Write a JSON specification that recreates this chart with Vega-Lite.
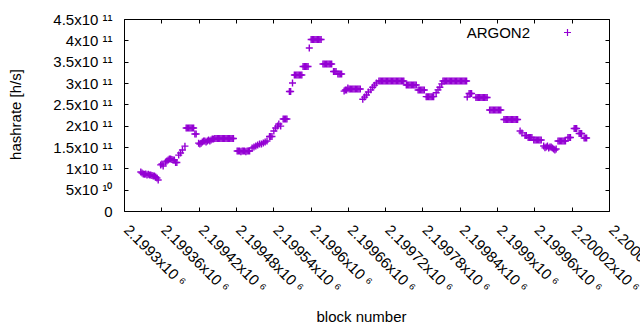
{
"$schema": "https://vega.github.io/schema/vega-lite/v6.json",
"width": 485, "height": 192,
"autosize": "none",
"padding": {"left": 124, "top": 19, "right": 31, "bottom": 119},
"config": {
  "view": {"stroke": "black", "strokeWidth": 1},
  "font": "Liberation Sans",
  "axis": {"labelFont": "Liberation Sans", "labelFontSize": 15, "labelColor": "black", "titleFont": "Liberation Sans", "titleFontSize": 15, "titleFontWeight": "normal", "titleColor": "black", "tickColor": "black", "tickSize": -4, "tickWidth": 1, "domain": false, "grid": false, "labelFlush": false, "labelOverlap": false, "labelBound": false},
  "legend": {"labelFont": "Liberation Sans", "labelFontSize": 15, "labelColor": "black"}
},
"data": {"values": [
{"block":2199327,"hashrate":9.14e10},{"block":2199329,"hashrate":8.9e10},{"block":2199331,"hashrate":8.67e10},{"block":2199333,"hashrate":8.6e10},{"block":2199335,"hashrate":8.67e10},{"block":2199337,"hashrate":8.44e10},{"block":2199339,"hashrate":8.6e10},{"block":2199341,"hashrate":8.44e10},{"block":2199343,"hashrate":8.44e10},{"block":2199345,"hashrate":8.3e10},{"block":2199347,"hashrate":8.2e10},{"block":2199349,"hashrate":8.2e10},{"block":2199351,"hashrate":7.97e10},{"block":2199353,"hashrate":7.73e10},{"block":2199355,"hashrate":7.27e10},
{"block":2199359,"hashrate":1.08e11},{"block":2199361,"hashrate":1.1e11},{"block":2199363,"hashrate":1.055e11},
{"block":2199367,"hashrate":1.148e11},{"block":2199369,"hashrate":1.172e11},{"block":2199371,"hashrate":1.195e11},{"block":2199373,"hashrate":1.219e11},{"block":2199375,"hashrate":1.219e11},{"block":2199377,"hashrate":1.207e11},{"block":2199379,"hashrate":1.195e11},{"block":2199381,"hashrate":1.195e11},{"block":2199383,"hashrate":1.137e11},{"block":2199385,"hashrate":1.137e11},
{"block":2199388,"hashrate":1.31e11},{"block":2199391,"hashrate":1.36e11},{"block":2199394,"hashrate":1.43e11},{"block":2199398,"hashrate":1.52e11},
{"block":2199400,"hashrate":1.945e11},{"block":2199402,"hashrate":1.945e11},{"block":2199404,"hashrate":1.945e11},{"block":2199406,"hashrate":1.945e11},{"block":2199408,"hashrate":1.945e11},{"block":2199410,"hashrate":1.945e11},{"block":2199412,"hashrate":1.945e11},
{"block":2199414,"hashrate":1.805e11},{"block":2199416,"hashrate":1.805e11},
{"block":2199420,"hashrate":1.59e11},{"block":2199422,"hashrate":1.57e11},{"block":2199424,"hashrate":1.59e11},{"block":2199426,"hashrate":1.617e11},{"block":2199428,"hashrate":1.64e11},{"block":2199430,"hashrate":1.64e11},{"block":2199432,"hashrate":1.617e11},{"block":2199434,"hashrate":1.64e11},{"block":2199436,"hashrate":1.664e11},{"block":2199438,"hashrate":1.64e11},{"block":2199440,"hashrate":1.664e11},{"block":2199442,"hashrate":1.687e11},{"block":2199444,"hashrate":1.687e11},
{"block":2199446,"hashrate":1.7e11},{"block":2199448,"hashrate":1.7e11},{"block":2199450,"hashrate":1.7e11},{"block":2199452,"hashrate":1.7e11},{"block":2199454,"hashrate":1.7e11},{"block":2199456,"hashrate":1.7e11},{"block":2199458,"hashrate":1.7e11},{"block":2199460,"hashrate":1.7e11},{"block":2199462,"hashrate":1.7e11},{"block":2199464,"hashrate":1.7e11},{"block":2199466,"hashrate":1.7e11},{"block":2199468,"hashrate":1.7e11},{"block":2199470,"hashrate":1.7e11},{"block":2199472,"hashrate":1.7e11},{"block":2199474,"hashrate":1.7e11},{"block":2199476,"hashrate":1.7e11},
{"block":2199482,"hashrate":1.406e11},{"block":2199484,"hashrate":1.406e11},{"block":2199486,"hashrate":1.406e11},{"block":2199488,"hashrate":1.39e11},{"block":2199490,"hashrate":1.406e11},{"block":2199492,"hashrate":1.406e11},{"block":2199494,"hashrate":1.406e11},{"block":2199496,"hashrate":1.39e11},{"block":2199498,"hashrate":1.406e11},{"block":2199500,"hashrate":1.406e11},{"block":2199502,"hashrate":1.406e11},
{"block":2199506,"hashrate":1.476e11},{"block":2199509,"hashrate":1.5e11},{"block":2199512,"hashrate":1.523e11},{"block":2199515,"hashrate":1.547e11},{"block":2199518,"hashrate":1.57e11},{"block":2199521,"hashrate":1.57e11},{"block":2199524,"hashrate":1.594e11},{"block":2199527,"hashrate":1.617e11},{"block":2199530,"hashrate":1.64e11},
{"block":2199534,"hashrate":1.746e11},{"block":2199536,"hashrate":1.746e11},{"block":2199538,"hashrate":1.746e11},
{"block":2199541,"hashrate":1.875e11},{"block":2199544,"hashrate":1.945e11},{"block":2199547,"hashrate":1.99e11},{"block":2199549,"hashrate":2.04e11},{"block":2199552,"hashrate":1.99e11},{"block":2199556,"hashrate":2.156e11},{"block":2199558,"hashrate":2.156e11},{"block":2199560,"hashrate":2.156e11},{"block":2199562,"hashrate":2.156e11},
{"block":2199566,"hashrate":2.8e11},{"block":2199568,"hashrate":2.8e11},{"block":2199571,"hashrate":3.0e11},
{"block":2199574,"hashrate":3.187e11},{"block":2199576,"hashrate":3.187e11},{"block":2199578,"hashrate":3.187e11},{"block":2199580,"hashrate":3.187e11},{"block":2199582,"hashrate":3.187e11},{"block":2199584,"hashrate":3.187e11},{"block":2199586,"hashrate":3.187e11},
{"block":2199588,"hashrate":3.387e11},{"block":2199590,"hashrate":3.387e11},{"block":2199592,"hashrate":3.387e11},{"block":2199594,"hashrate":3.387e11},{"block":2199596,"hashrate":3.387e11},
{"block":2199598,"hashrate":3.82e11},
{"block":2199601,"hashrate":4.019e11},{"block":2199603,"hashrate":4.019e11},{"block":2199605,"hashrate":4.019e11},{"block":2199607,"hashrate":4.019e11},{"block":2199609,"hashrate":4.019e11},{"block":2199611,"hashrate":4.019e11},{"block":2199613,"hashrate":4.019e11},{"block":2199615,"hashrate":4.019e11},{"block":2199617,"hashrate":4.019e11},
{"block":2199620,"hashrate":3.445e11},{"block":2199622,"hashrate":3.445e11},{"block":2199624,"hashrate":3.445e11},{"block":2199626,"hashrate":3.445e11},{"block":2199628,"hashrate":3.445e11},{"block":2199630,"hashrate":3.445e11},{"block":2199632,"hashrate":3.445e11},{"block":2199634,"hashrate":3.445e11},
{"block":2199637,"hashrate":3.269e11},{"block":2199639,"hashrate":3.269e11},{"block":2199641,"hashrate":3.269e11},
{"block":2199644,"hashrate":3.211e11},{"block":2199646,"hashrate":3.211e11},{"block":2199648,"hashrate":3.211e11},{"block":2199650,"hashrate":3.211e11},
{"block":2199654,"hashrate":2.81e11},{"block":2199656,"hashrate":2.836e11},{"block":2199658,"hashrate":2.836e11},{"block":2199660,"hashrate":2.88e11},{"block":2199662,"hashrate":2.86e11},{"block":2199664,"hashrate":2.86e11},{"block":2199666,"hashrate":2.86e11},{"block":2199668,"hashrate":2.86e11},{"block":2199670,"hashrate":2.86e11},{"block":2199672,"hashrate":2.86e11},{"block":2199674,"hashrate":2.86e11},{"block":2199676,"hashrate":2.86e11},{"block":2199678,"hashrate":2.86e11},{"block":2199680,"hashrate":2.86e11},
{"block":2199684,"hashrate":2.62e11},{"block":2199687,"hashrate":2.67e11},{"block":2199690,"hashrate":2.72e11},{"block":2199693,"hashrate":2.79e11},
{"block":2199697,"hashrate":2.84e11},{"block":2199700,"hashrate":2.9e11},{"block":2199703,"hashrate":2.95e11},{"block":2199706,"hashrate":3.0e11},
{"block":2199710,"hashrate":3.047e11},{"block":2199712,"hashrate":3.047e11},{"block":2199714,"hashrate":3.047e11},{"block":2199716,"hashrate":3.047e11},{"block":2199718,"hashrate":3.047e11},{"block":2199720,"hashrate":3.047e11},{"block":2199722,"hashrate":3.047e11},{"block":2199724,"hashrate":3.047e11},{"block":2199726,"hashrate":3.047e11},{"block":2199728,"hashrate":3.047e11},{"block":2199730,"hashrate":3.047e11},{"block":2199732,"hashrate":3.047e11},{"block":2199734,"hashrate":3.047e11},{"block":2199736,"hashrate":3.047e11},{"block":2199738,"hashrate":3.047e11},{"block":2199740,"hashrate":3.047e11},{"block":2199742,"hashrate":3.047e11},{"block":2199744,"hashrate":3.047e11},{"block":2199746,"hashrate":3.047e11},{"block":2199748,"hashrate":3.047e11},{"block":2199750,"hashrate":3.047e11},
{"block":2199754,"hashrate":2.953e11},{"block":2199756,"hashrate":2.953e11},{"block":2199758,"hashrate":2.953e11},{"block":2199760,"hashrate":2.953e11},{"block":2199762,"hashrate":2.953e11},{"block":2199764,"hashrate":2.953e11},{"block":2199766,"hashrate":2.953e11},{"block":2199768,"hashrate":2.953e11},{"block":2199770,"hashrate":2.953e11},
{"block":2199773,"hashrate":2.836e11},{"block":2199775,"hashrate":2.836e11},{"block":2199777,"hashrate":2.836e11},{"block":2199779,"hashrate":2.836e11},{"block":2199781,"hashrate":2.836e11},{"block":2199783,"hashrate":2.836e11},
{"block":2199786,"hashrate":2.68e11},{"block":2199788,"hashrate":2.68e11},{"block":2199790,"hashrate":2.68e11},{"block":2199792,"hashrate":2.68e11},{"block":2199794,"hashrate":2.68e11},{"block":2199796,"hashrate":2.68e11},{"block":2199798,"hashrate":2.68e11},
{"block":2199802,"hashrate":2.77e11},{"block":2199805,"hashrate":2.84e11},{"block":2199808,"hashrate":2.9e11},{"block":2199811,"hashrate":2.98e11},
{"block":2199813,"hashrate":3.047e11},{"block":2199815,"hashrate":3.047e11},{"block":2199817,"hashrate":3.047e11},{"block":2199819,"hashrate":3.047e11},{"block":2199821,"hashrate":3.047e11},{"block":2199823,"hashrate":3.047e11},{"block":2199825,"hashrate":3.047e11},{"block":2199827,"hashrate":3.047e11},{"block":2199829,"hashrate":3.047e11},{"block":2199831,"hashrate":3.047e11},{"block":2199833,"hashrate":3.047e11},{"block":2199835,"hashrate":3.047e11},{"block":2199837,"hashrate":3.047e11},{"block":2199839,"hashrate":3.047e11},{"block":2199841,"hashrate":3.047e11},{"block":2199843,"hashrate":3.047e11},{"block":2199845,"hashrate":3.047e11},{"block":2199847,"hashrate":3.047e11},{"block":2199849,"hashrate":3.047e11},{"block":2199851,"hashrate":3.047e11},
{"block":2199852,"hashrate":2.672e11},
{"block":2199855,"hashrate":2.754e11},{"block":2199857,"hashrate":2.754e11},{"block":2199859,"hashrate":2.754e11},
{"block":2199866,"hashrate":2.66e11},{"block":2199868,"hashrate":2.66e11},{"block":2199870,"hashrate":2.66e11},{"block":2199872,"hashrate":2.66e11},{"block":2199874,"hashrate":2.66e11},{"block":2199876,"hashrate":2.66e11},{"block":2199878,"hashrate":2.66e11},{"block":2199880,"hashrate":2.66e11},{"block":2199882,"hashrate":2.66e11},{"block":2199884,"hashrate":2.66e11},
{"block":2199888,"hashrate":2.367e11},{"block":2199890,"hashrate":2.367e11},{"block":2199892,"hashrate":2.367e11},{"block":2199894,"hashrate":2.367e11},{"block":2199896,"hashrate":2.367e11},{"block":2199898,"hashrate":2.367e11},{"block":2199900,"hashrate":2.367e11},{"block":2199902,"hashrate":2.367e11},{"block":2199904,"hashrate":2.367e11},{"block":2199906,"hashrate":2.367e11},
{"block":2199911,"hashrate":2.144e11},{"block":2199913,"hashrate":2.144e11},{"block":2199915,"hashrate":2.144e11},{"block":2199917,"hashrate":2.144e11},{"block":2199919,"hashrate":2.144e11},{"block":2199921,"hashrate":2.144e11},{"block":2199923,"hashrate":2.144e11},{"block":2199925,"hashrate":2.144e11},{"block":2199927,"hashrate":2.144e11},{"block":2199929,"hashrate":2.144e11},{"block":2199931,"hashrate":2.144e11},{"block":2199933,"hashrate":2.144e11},
{"block":2199937,"hashrate":1.875e11},{"block":2199940,"hashrate":1.83e11},
{"block":2199945,"hashrate":1.769e11},{"block":2199947,"hashrate":1.769e11},{"block":2199950,"hashrate":1.722e11},{"block":2199952,"hashrate":1.722e11},{"block":2199954,"hashrate":1.722e11},{"block":2199956,"hashrate":1.722e11},
{"block":2199959,"hashrate":1.664e11},{"block":2199961,"hashrate":1.664e11},{"block":2199963,"hashrate":1.664e11},{"block":2199965,"hashrate":1.664e11},{"block":2199967,"hashrate":1.664e11},{"block":2199969,"hashrate":1.664e11},{"block":2199971,"hashrate":1.664e11},
{"block":2199975,"hashrate":1.523e11},{"block":2199977,"hashrate":1.48e11},{"block":2199979,"hashrate":1.5e11},{"block":2199981,"hashrate":1.523e11},{"block":2199983,"hashrate":1.476e11},{"block":2199985,"hashrate":1.5e11},{"block":2199987,"hashrate":1.5e11},{"block":2199989,"hashrate":1.476e11},{"block":2199991,"hashrate":1.453e11},{"block":2199993,"hashrate":1.43e11},{"block":2199995,"hashrate":1.453e11},
{"block":2199998,"hashrate":1.64e11},{"block":2200000,"hashrate":1.64e11},{"block":2200002,"hashrate":1.64e11},{"block":2200004,"hashrate":1.64e11},{"block":2200006,"hashrate":1.64e11},{"block":2200008,"hashrate":1.64e11},{"block":2200010,"hashrate":1.64e11},
{"block":2200014,"hashrate":1.722e11},{"block":2200016,"hashrate":1.722e11},{"block":2200018,"hashrate":1.722e11},
{"block":2200024,"hashrate":1.933e11},{"block":2200026,"hashrate":1.933e11},{"block":2200028,"hashrate":1.933e11},
{"block":2200032,"hashrate":1.816e11},{"block":2200034,"hashrate":1.816e11},{"block":2200036,"hashrate":1.816e11},
{"block":2200040,"hashrate":1.71e11},{"block":2200042,"hashrate":1.71e11},{"block":2200044,"hashrate":1.71e11}
]},
"layer": [
  {
    "mark": {"type": "point", "shape": "M-1,0L1,0M0,-1L0,1", "filled": false, "size": 49, "strokeWidth": 1.4, "opacity": 1},
    "encoding": {
      "x": {"field": "block", "type": "quantitative", "scale": {"domain": [2199300, 2200080], "nice": false, "zero": false},
        "axis": {"values": [2199300, 2199360, 2199420, 2199480, 2199540, 2199600, 2199660, 2199720, 2199780, 2199840, 2199900, 2199960, 2200020, 2200080],
          "labelExpr": "format(datum.value/1e6, '.6~f') + 'x10 ⁶'", "labelAngle": 45, "labelAlign": "left", "labelBaseline": "top", "labelPadding": 15, "labelOffset": 7,
          "title": "block number", "titleX": 237, "titleY": 110, "titleAlign": "center", "titleBaseline": "alphabetic"}},
      "y": {"field": "hashrate", "type": "quantitative", "scale": {"domain": [0, 450000000000], "nice": false},
        "axis": {"values": [0, 50000000000, 100000000000, 150000000000, 200000000000, 250000000000, 300000000000, 350000000000, 400000000000, 450000000000],
          "labelExpr": "datum.value == 0 ? '0' : (datum.value < 1e11 ? format(datum.value/1e10, '~g') + 'x10 ¹⁰' : format(datum.value/1e11, '~g') + 'x10 ¹¹')",
          "labelPadding": 16, "title": "hashrate [h/s]", "titleX": -109, "titleY": 95, "titleAngle": -90, "titleAlign": "center", "titleBaseline": "middle"}},
      "color": {"datum": "ARGON2", "scale": {"domain": ["ARGON2"], "range": ["#9400d3"]},
        "legend": {"title": null, "orient": "none", "legendX": 436, "legendY": 6, "symbolType": "M-1,0L1,0M0,-1L0,1", "symbolSize": 49, "symbolStrokeWidth": 1.2, "labelAlign": "right", "labelOffset": -45, "padding": 0}}
    }
  },
  {
    "mark": {"type": "point", "opacity": 0},
    "encoding": {
      "x": {"field": "block", "type": "quantitative", "scale": {"domain": [2199300, 2200080], "nice": false, "zero": false},
        "axis": {"orient": "top", "labels": false, "title": null, "values": [2199300, 2199360, 2199420, 2199480, 2199540, 2199600, 2199660, 2199720, 2199780, 2199840, 2199900, 2199960, 2200020, 2200080]}},
      "y": {"field": "hashrate", "type": "quantitative", "scale": {"domain": [0, 450000000000], "nice": false},
        "axis": {"orient": "right", "labels": false, "title": null, "values": [0, 50000000000, 100000000000, 150000000000, 200000000000, 250000000000, 300000000000, 350000000000, 400000000000, 450000000000]}}
    }
  }
],
"resolve": {"axis": {"x": "independent", "y": "independent"}}
}
